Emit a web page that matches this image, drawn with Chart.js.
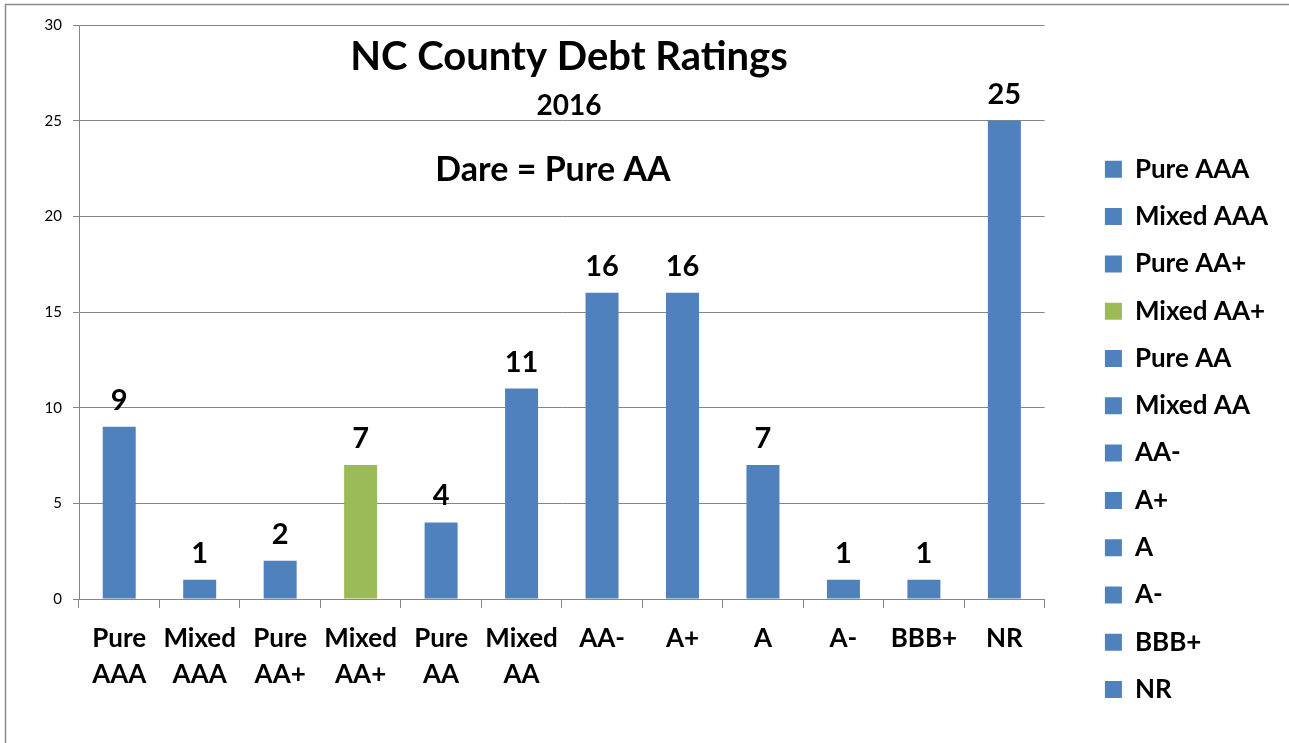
<!DOCTYPE html>
<html>
<head>
<meta charset="utf-8">
<script src="https://cdn.jsdelivr.net/npm/chart.js@4/dist/chart.umd.min.js"></script>
<style>
html,body{margin:0;padding:0;background:#fff;}
#wrap{width:1289px;height:743px;position:relative;}
</style>
</head>
<body>
<div id="wrap"><canvas id="ratings"></canvas></div>
<script>
// county counts by rating, 2016
const ratings = [
"Pure AAA","Mixed AAA","Pure AA+","Mixed AA+","Pure AA","Mixed AA",
"AA-","A+","A","A-","BBB+","NR"
];
const counties = [9,1,2,7,4,11,16,16,7,1,1,25];
const barColors = [
"#4F81BD","#4F81BD","#4F81BD","#9BBB59","#4F81BD","#4F81BD",
"#4F81BD","#4F81BD","#4F81BD","#4F81BD","#4F81BD","#4F81BD"
];
const yTicks = [0,5,10,15,20,25,30];

const FONT = "Lato, 'Open Sans', sans-serif";
const GRID = "#868686";

const frame = {
id:"frame",
beforeDraw(chart){
const ctx = chart.ctx;
ctx.save();
ctx.strokeStyle = "#8c8c8c";
ctx.lineWidth = 1.5;
ctx.strokeRect(5.5,4.5,1400,800);
ctx.restore();
}
};

const headings = {
id:"headings",
afterDraw(chart){
const ctx = chart.ctx;
ctx.save();
ctx.fillStyle = "#000";
ctx.textAlign = "center";
ctx.textBaseline = "alphabetic";
ctx.font = "bold 40px " + FONT;
ctx.fillText("NC County Debt Ratings",569,70);
ctx.font = "bold 28px " + FONT;
ctx.fillText("2016",569,115);
ctx.font = "bold 34px " + FONT;
ctx.fillText("Dare = Pure AA",553,181);
ctx.restore();
}
};

const barValues = {
id:"barValues",
afterDatasetsDraw(chart){
const ctx = chart.ctx;
const meta = chart.getDatasetMeta(0);
ctx.save();
ctx.fillStyle = "#000";
ctx.textAlign = "center";
ctx.textBaseline = "alphabetic";
ctx.font = "bold 29px " + FONT;
meta.data.forEach((bar,i)=>{
ctx.fillText(String(counties[i]),bar.x,bar.y - 17);
});
ctx.restore();
}
};

new Chart(document.getElementById("ratings"),{
type:"bar",
data:{
labels:ratings,
datasets:[{
label:"Counties",
data:counties,
backgroundColor:barColors,
borderWidth:0,
categoryPercentage:1,
barPercentage:0.41
}]
},
options:{
responsive:true,
maintainAspectRatio:false,
animation:false,
layout:{padding:{top:25,left:0,right:11,bottom:0}},
scales:{
x:{
grid:{
display:true,
offset:true,
drawOnChartArea:false,
drawTicks:true,
tickLength:9,
color:GRID
},
border:{color:GRID,width:1},
ticks:{
autoSkip:false,
maxRotation:0,
minRotation:0,
padding:12,
color:"#000",
font:{family:FONT,size:26,weight:"bold",lineHeight:1.4},
callback(value){
const lab = ratings[value];
if(lab.startsWith("Pure ") || lab.startsWith("Mixed ")) return lab.split(" ");
return lab;
}
},
afterFit(scale){scale.height = 144;}
},
y:{
min:0,
max:30,
afterBuildTicks(scale){scale.ticks = yTicks.map(v=>({value:v}));},
grid:{color:GRID,tickLength:6,lineWidth:1},
border:{color:GRID,width:1},
ticks:{
padding:11,
color:"#000",
font:{family:FONT,size:15}
},
afterFit(scale){scale.width = 79;}
},
gap:{
position:"right",
display:true,
grid:{display:false,drawTicks:false},
border:{display:false},
ticks:{display:false},
afterFit(scale){scale.width = 39;}
}
},
plugins:{
tooltip:{enabled:false},
legend:{
position:"right",
align:"start",
title:{display:true,text:"",font:{size:10},padding:{top:98,bottom:0}},
labels:{
boxWidth:17,
boxHeight:17,
padding:21.3,
color:"#000",
font:{family:FONT,size:26,weight:700},
generateLabels(){
return ratings.map((r,i)=>({
text:r,
fillStyle:barColors[i],
strokeStyle:barColors[i],
fontColor:"#000",
lineWidth:0,
hidden:false,
index:i
}));
}
}
}
}
},
plugins:[frame,headings,barValues]
});
</script>
</body>
</html>
